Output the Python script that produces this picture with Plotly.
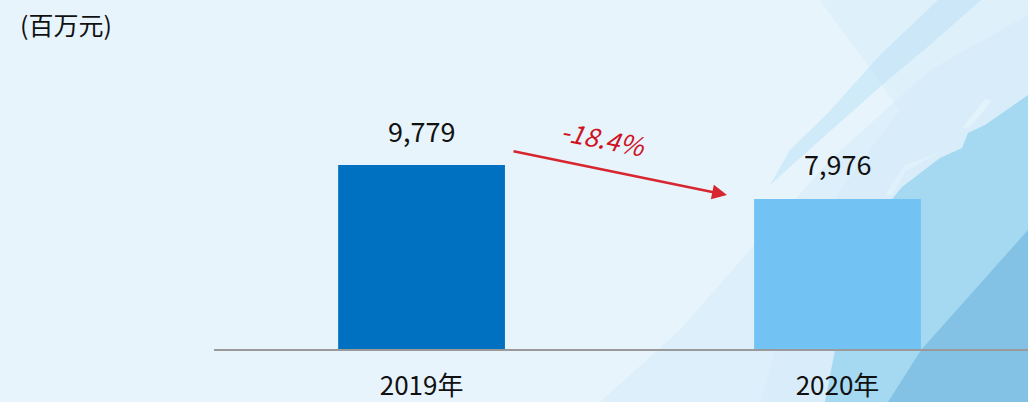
import plotly.graph_objects as go

# Revenue by year (millions of yuan)
years = ["2019年", "2020年"]
revenue = [9779, 7976]
bar_colors = ["#0070C0", "#72C3F3"]
unit_label = "(百万元)"

W, H = 1028, 402
M_L, M_R, M_T, M_B = 214, 0, 0, 53
PW, PH = W - M_L - M_R, H - M_T - M_B
FONT = "Noto Sans CJK SC"

def px(x, y):
    """Convert page pixel position to paper coordinates."""
    return (x - M_L) / PW, (H - M_B - y) / PH

change = (revenue[1] / revenue[0] - 1) * 100
change_text = f"{change:.1f}%"

fig = go.Figure()
fig.add_trace(go.Bar(
    x=years, y=revenue,
    marker=dict(color=bar_colors, line=dict(width=0)),
    width=0.401,
    hoverinfo="x+y",
))

# Decorative background panels on the right side
def path(points):
    pts = [px(x, y) for x, y in points]
    return "M " + " L ".join(f"{a:.4f},{b:.4f}" for a, b in pts) + " Z"

bg_shapes = [
    # soft wash towards the right
    ([(600, 402), (680, 330), (750, 250), (830, 160), (930, 70), (1028, 15), (1028, 402)], "rgba(205,233,248,0.4)"),
    ([(820, 0), (1028, 0), (1028, 402), (760, 402), (790, 300), (840, 190), (900, 110)], "rgba(210,236,249,0.45)"),
    # curved band at the top right
    ([(938, 0), (981, 0), (930, 45), (888, 80), (828, 133), (770, 185), (790, 150), (828, 113), (880, 55)], "rgba(192,227,246,0.6)"),
    # lower-right panel
    ([(1028, 95), (985, 125), (968, 133), (962, 148), (940, 158), (902, 187), (875, 220), (850, 290), (835, 350), (825, 402), (1028, 402)],
     "rgba(160,213,239,0.9)"),
    # darkest corner
    ([(1028, 230), (921, 350), (888, 402), (1028, 402)], "rgba(125,190,226,0.85)"),
    # light streaks
    ([(962, 128), (985, 99), (992, 101), (970, 127)], "rgba(240,250,255,0.45)"),
    ([(885, 195), (905, 165), (940, 152), (905, 172), (892, 195)], "rgba(235,247,253,0.4)"),
]
shapes = [dict(type="path", path=path(p), xref="paper", yref="paper",
               fillcolor=c, line=dict(width=0), layer="below") for p, c in bg_shapes]

annotations = []
# Value labels above each bar
for yr, v in zip(years, revenue):
    annotations.append(dict(x=yr, y=v, xref="x", yref="y", text=f"{v:,}", showarrow=False,
                            yanchor="middle", yshift=35,
                            font=dict(size=27, color="#111111", family=FONT)))

# Change arrow between the two bars
x1, y1 = px(727, 195)
annotations += [
    dict(x=x1, y=y1, ax=512 - 727, ay=151 - 195, xref="paper", yref="paper", axref="pixel", ayref="pixel",
         showarrow=True, arrowhead=2, arrowsize=1.15, arrowwidth=2.6, arrowcolor="#D7262F", text=""),
    dict(x=px(604, 137)[0], y=px(604, 137)[1], xref="paper", yref="paper", showarrow=False,
         xanchor="center", yanchor="middle",
         text=f"<i>{change_text}</i>", textangle=11,
         font=dict(size=26, color="#D0111F", family=FONT)),
    dict(x=px(18, 24)[0], y=px(18, 24)[1], xref="paper", yref="paper", showarrow=False,
         xanchor="left", yanchor="middle", text=unit_label,
         font=dict(size=25, color="#111111", family=FONT)),
]

ymax = revenue[0] * PH / 184

fig.update_layout(
    width=W, height=H,
    margin=dict(l=M_L, r=M_R, t=M_T, b=M_B),
    paper_bgcolor="#E7F4FC", plot_bgcolor="rgba(0,0,0,0)",
    showlegend=False,
    shapes=shapes, annotations=annotations,
    xaxis=dict(type="category", range=[-0.499, 1.458], showgrid=False, zeroline=False,
               showline=True, linecolor="#9A9A9A", linewidth=1.5, ticks="",
               tickfont=dict(size=26, color="#111111", family=FONT),
               ticklabelstandoff=13),
    yaxis=dict(range=[0, ymax], visible=False, fixedrange=True),
)

fig.write_html("out.html")
